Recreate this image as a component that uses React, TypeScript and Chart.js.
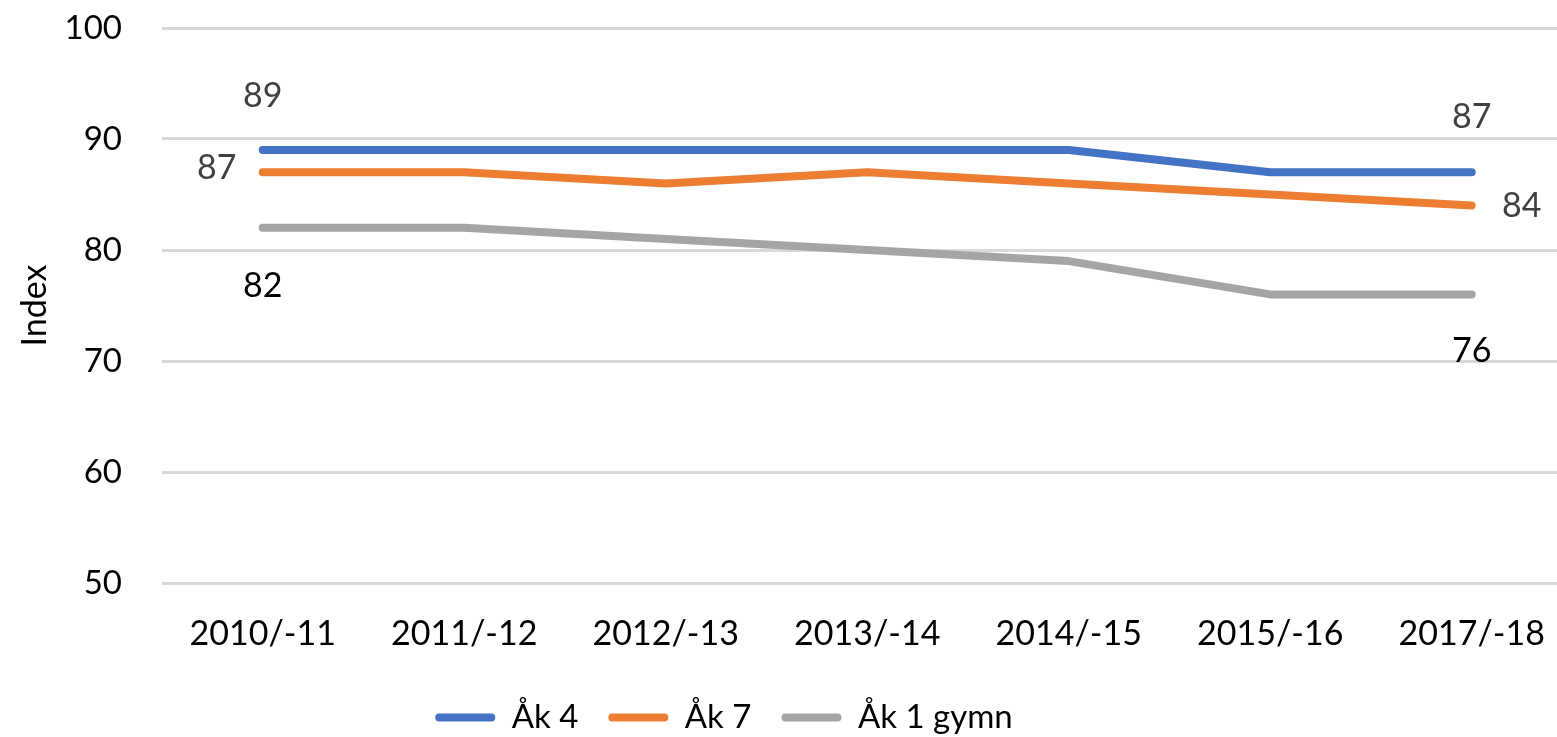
import React, { useEffect, useRef } from "react";
import { Chart, registerables } from "chart.js";

Chart.register(...registerables);

const categories = ["2010/-11", "2011/-12", "2012/-13", "2013/-14", "2014/-15", "2015/-16", "2017/-18"];
const seriesNames = ["Åk 4", "Åk 7", "Åk 1 gymn"];
const ak4 = [89, 89, 89, 89, 89, 87, 87];
const ak7 = [87, 87, 86, 87, 86, 85, 84];
const ak1gymn = [82, 82, 81, 80, 79, 76, 76];
const yTicks = [50, 60, 70, 80, 90, 100];
const colors = ["#4472C4", "#ED7D31", "#A5A5A5"];

// which points carry a value label, and where it sits relative to the point
const labelSpecs = [
  { ds: 0, idx: 0, dx: 0, dy: -54, color: "#404040" },
  { ds: 1, idx: 0, dx: -46, dy: -4, color: "#404040" },
  { ds: 2, idx: 0, dx: 0, dy: 58, color: "#000000" },
  { ds: 0, idx: 6, dx: 0, dy: -55, color: "#404040" },
  { ds: 1, idx: 6, dx: 50, dy: 0, color: "#404040" },
  { ds: 2, idx: 6, dx: 0, dy: 57, color: "#000000" },
];

const FONT = "Lato";
const LEGEND_SHIFT = 126;

const valueLabels = {
  id: "valueLabels",
  afterDatasetsDraw(chart: any) {
    const ctx = chart.ctx;
    ctx.save();
    ctx.font = `34px ${FONT}`;
    ctx.textAlign = "center";
    ctx.textBaseline = "middle";
    for (const s of labelSpecs) {
      const meta = chart.getDatasetMeta(s.ds);
      const el = meta.data[s.idx];
      if (!el) continue;
      const v = chart.data.datasets[s.ds].data[s.idx];
      ctx.fillStyle = s.color;
      ctx.fillText(String(v), el.x + s.dx, el.y + s.dy);
    }
    ctx.restore();
  },
};

// nudge the legend box so it is centred like the original (slightly left of canvas centre)
const legendNudge = {
  id: "legendNudge",
  afterLayout(chart: any) {
    const lg = chart.legend;
    if (!lg) return;
    lg.right = lg.right - LEGEND_SHIFT;
    lg.width = lg.right - lg.left;
  },
};

export default function App() {
  const ref = useRef<HTMLCanvasElement | null>(null);
  useEffect(() => {
    if (!ref.current) return;
    const series = [ak4, ak7, ak1gymn];
    const chart = new Chart(ref.current, {
      type: "line",
      data: {
        labels: categories,
        datasets: series.map((d, i) => ({
          label: seriesNames[i],
          data: d,
          borderColor: colors[i],
          backgroundColor: colors[i],
          borderWidth: 8,
          borderCapStyle: "round" as const,
          borderJoinStyle: "round" as const,
          pointRadius: 0,
          pointHoverRadius: 0,
          tension: 0,
        })),
      },
      options: {
        animation: false,
        responsive: true,
        maintainAspectRatio: false,
        layout: { padding: { top: 28, right: 2, bottom: -7, left: 0 } },
        plugins: {
          tooltip: { enabled: false },
          legend: {
            position: "bottom",
            labels: {
              boxWidth: 60,
              boxHeight: 8,
              padding: 30,
              color: "#000000",
              font: { family: FONT, size: 33 },
              useBorderRadius: true,
              borderRadius: 4,
              generateLabels: (c: any) =>
                Chart.defaults.plugins.legend.labels.generateLabels(c).map((l: any) => ({
                  ...l,
                  lineWidth: 0,
                  fillStyle: l.strokeStyle,
                  borderRadius: 4,
                })),
            },
          },
        },
        scales: {
          x: {
            offset: true,
            grid: { display: false, drawTicks: false },
            border: { display: false },
            ticks: {
              color: "#000000",
              font: { family: FONT, size: 34 },
              padding: 31,
              maxRotation: 0,
              autoSkip: false,
            },
            afterFit: (scale: any) => {
              scale.height = 88;
            },
          },
          y: {
            min: 50,
            max: 100,
            afterBuildTicks: (scale: any) => {
              scale.ticks = yTicks.map((v) => ({ value: v }));
            },
            grid: { color: "#D9D9D9", lineWidth: 3, drawTicks: false },
            border: { display: false },
            ticks: {
              color: "#000000",
              font: { family: FONT, size: 33 },
              padding: 40,
            },
            title: {
              display: true,
              text: "Index",
              color: "#000000",
              font: { family: FONT, size: 34 },
              padding: { top: 15, bottom: 0 },
            },
            afterFit: (scale: any) => {
              scale.width = 162;
              scale.paddingTop = 20;
              scale.paddingBottom = 20;
            },
          },
        },
      },
      plugins: [valueLabels, legendNudge],
    });
    return () => chart.destroy();
  }, []);

  return (
    <div
      style={{
        position: "fixed",
        left: 0,
        top: 0,
        width: 1557,
        height: 737,
        overflow: "hidden",
        background: "#ffffff",
      }}
    >
      <div style={{ position: "relative", width: 1576, height: 737 }}>
        <canvas ref={ref} />
      </div>
    </div>
  );
}
